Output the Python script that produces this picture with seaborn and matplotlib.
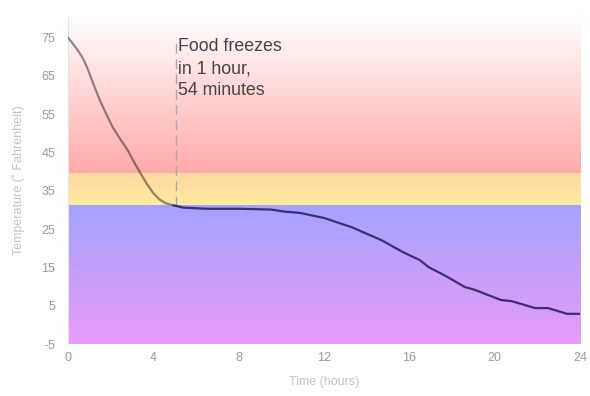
"""Food temperature over time, with safe/danger/frozen zones."""

import matplotlib.pyplot as plt
import numpy as np
import pandas as pd
import seaborn as sns

# data
hours = [0, 0.2, 0.47, 0.7, 0.9, 1.2, 1.5, 1.8, 2.1, 2.45, 2.8, 3.1, 3.4,
         3.7, 4.0, 4.3, 4.6, 4.95, 5.4, 6.5, 8.0, 9.5, 10.1, 10.9, 12.0, 13.3,
         14.7, 15.7, 16.5, 16.9, 17.7, 18.6, 19.1, 20.3, 20.8, 21.9, 22.5,
         23.4, 24.0]
temps = [75, 73.6, 71.6, 69.6, 67.2, 62.8, 58.6, 55.0, 51.6, 48.5, 45.6, 42.5,
         39.6, 36.8, 34.4, 32.7, 31.7, 31.2, 30.6, 30.3, 30.3, 30.1, 29.6,
         29.2, 27.9, 25.5, 22.1, 19.0, 16.9, 15.1, 12.8, 9.9, 9.1, 6.5, 6.2,
         4.4, 4.4, 2.9, 2.9]
freeze_hour = 5.05
freeze_temp = 31
danger_temp = 39.6
y_ticks = [-5, 5, 15, 25, 35, 45, 55, 65, 75]
x_ticks = [0, 4, 8, 12, 16, 20, 24]
note = "Food freezes\nin 1 hour,\n54 minutes"

# zones: (bottom, top, colour at bottom, colour at top)
zones = [
    (danger_temp, 80.4, "#ffaaaa", "#ffffff"),
    (freeze_temp, danger_temp, "#ffeb9f", "#ffd9a2"),
    (-5, freeze_temp, "#e99bf8", "#a3a3ff"),
]

sns.set_style("white")
plt.rcParams["font.family"] = ["Liberation Sans", "DejaVu Sans"]
plt.rcParams["axes.unicode_minus"] = False

fig = plt.figure(figsize=(5.9, 3.96), dpi=100)
ax = fig.add_axes([0.115, 0.131, 0.868, 0.827])


def gradient(c_bottom, c_top, n=128):
    lo = np.array(plt.matplotlib.colors.to_rgb(c_bottom))
    hi = np.array(plt.matplotlib.colors.to_rgb(c_top))
    t = np.linspace(0, 1, n)[:, None]
    return (lo + (hi - lo) * t)[:, None, :]


for lo, hi, c_lo, c_hi in zones:
    ax.imshow(gradient(c_lo, c_hi), extent=[0, 24, lo, hi], origin="lower",
              aspect="auto", zorder=0, interpolation="bilinear")

df = pd.DataFrame({"hours": hours, "temp": temps})
warm = df[df["hours"] <= 4.95]
cold = df[df["hours"] >= 4.95]
sns.lineplot(data=warm, x="hours", y="temp", ax=ax, color="#222222",
             alpha=0.5, linewidth=1.6, zorder=3)
sns.lineplot(data=cold, x="hours", y="temp", ax=ax, color="#3d2d74",
             linewidth=1.6, zorder=3)

ax.plot([freeze_hour, freeze_hour], [freeze_temp, 74.7], color="#a8a8a8",
        linewidth=1, dashes=(7, 4), zorder=2)
ax.text(freeze_hour + 0.12, 74.8, note, fontsize=12.8, color="#444444",
        va="top", ha="left", linespacing=1.38)

ax.set_xlim(0, 24)
ax.set_ylim(-5, 80.4)
ax.set_xticks(x_ticks)
ax.set_yticks(y_ticks)
ax.tick_params(colors="#9a9a9a", labelsize=9, length=0)
ax.tick_params(axis="x", pad=6)
ax.tick_params(axis="y", pad=9)
ax.set_xlabel("Time (hours)", color="#c4c4c4", fontsize=9, labelpad=8)
ax.set_ylabel("Temperature (˚ Fahrenheit)", color="#c4c4c4", fontsize=9,
              labelpad=12)
for side in ["top", "right", "bottom"]:
    ax.spines[side].set_visible(False)
ax.spines["left"].set_color("#e4e4e4")
ax.grid(False)

fig.savefig("out.png", dpi=100)
